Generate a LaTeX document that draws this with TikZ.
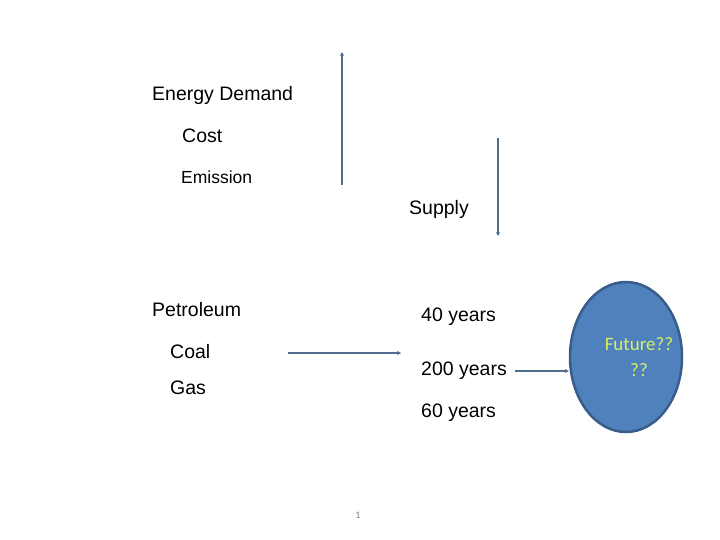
\documentclass[tikz,border=0pt]{standalone}
\usepackage{fontspec}
\setmainfont{Liberation Sans}
\newfontfamily\calfont{Carlito}
\usepackage{tikz}
\usetikzlibrary{shapes,arrows}
\usetikzlibrary{positioning}
\usetikzlibrary{arrows.meta}
\definecolor{arrblue}{RGB}{79,109,143}
\definecolor{ballfill}{RGB}{79,129,189}
\definecolor{balldraw}{RGB}{56,93,138}
\definecolor{futtext}{RGB}{214,240,100}
\tikzset{>=stealth}
\tikzstyle{line} = [draw, arrblue, line width=2pt, -{Stealth[length=4pt,width=4pt]}]

\begin{document}
\begin{tikzpicture}[x=1pt, y=-1pt,
      txt/.style={anchor=west, inner sep=0pt,
      font=\fontsize{19.5}{22}\selectfont},
      ball/.style={draw=balldraw,
      line width=2.5pt,
      ellipse,
      fill=ballfill,
      minimum width=112pt,
      minimum height=150pt}]
    \useasboundingbox (0,0) rectangle (720,540);
    %% left column
    \node [txt] (demand) at (152,95) {Energy Demand};
    \node [txt] (cost) at (182,136) {Cost};
    \node [txt, font=\fontsize{17.5}{20}\selectfont] (emission) at (181,177) {Emission};
    \node [txt] (supply) at (409,209) {Supply};
    \node [txt] (petrol) at (152,310) {Petroleum};
    \node [txt] (coal) at (170,352) {Coal};
    \node [txt] (gas) at (170,388) {Gas};
    %% reserves
    \node [txt] (y40) at (421,317) {40 years};
    \node [txt] (y200) at (421,371) {200 years};
    \node [txt] (y60) at (421,413) {60 years};
    \node [ball] (future) at (626,357) {};
    \node [align=center, text=futtext, inner sep=0pt,
      font=\calfont\fontsize{19}{26}\selectfont] (futtxt) at (639,357) {Future??\\??};
    \node [inner sep=0pt, text=gray, font=\calfont\fontsize{10}{12}\selectfont] (page) at (358,515) {1};
    %% arrows
    \coordinate (upA) at (342,185);
    \coordinate (upB) at (342,52);
    \coordinate (dnA) at (498,138);
    \coordinate (dnB) at (498,236);
    \coordinate (coalA) at (288,353);
    \coordinate (coalB) at (401,353);
    \path [line] (upA) to (upB);
    \path [line] (dnA) to (dnB);
    \path [line] (coalA) to (coalB);
    \path [line, shorten <=8pt] (y200.east) to (y200.east -| future.west);
  \end{tikzpicture}
\end{document}
